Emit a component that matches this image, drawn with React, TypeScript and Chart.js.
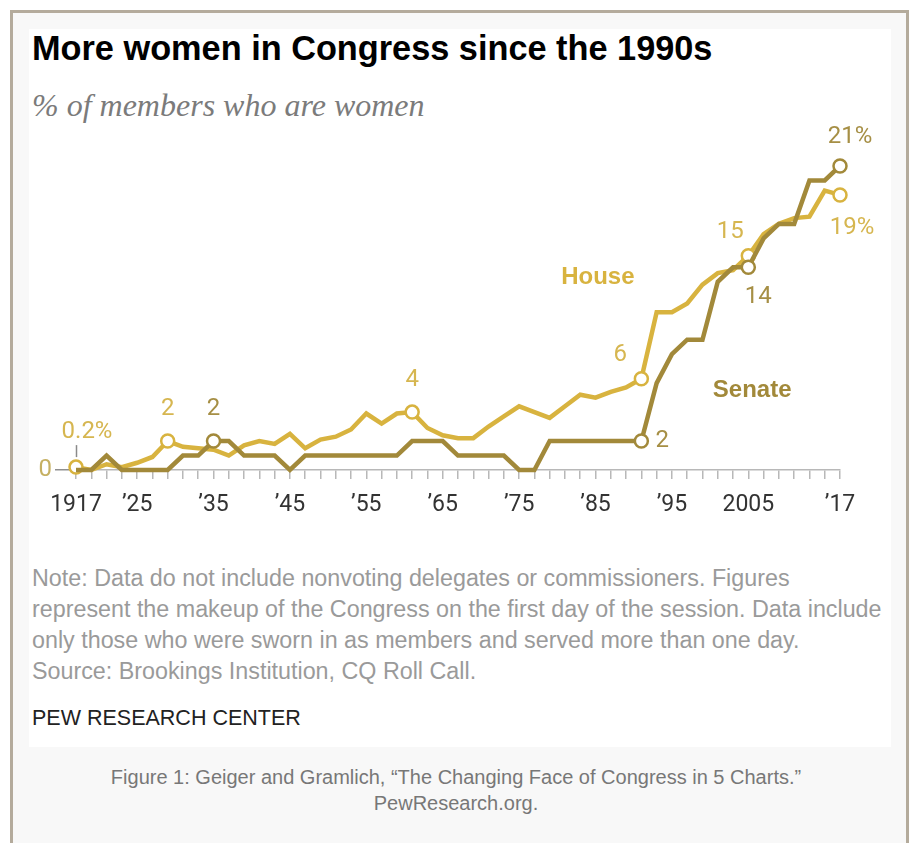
import React, { useEffect, useRef } from "react";
import { Chart, registerables } from "chart.js";

Chart.register(...registerables);

// Congress start years (every session, 1917-2017)
const years = [
  1917, 1919, 1921, 1923, 1925, 1927, 1929, 1931, 1933, 1935,
  1937, 1939, 1941, 1943, 1945, 1947, 1949, 1951, 1953, 1955,
  1957, 1959, 1961, 1963, 1965, 1967, 1969, 1971, 1973, 1975,
  1977, 1979, 1981, 1983, 1985, 1987, 1989, 1991, 1993, 1995,
  1997, 1999, 2001, 2003, 2005, 2007, 2009, 2011, 2013, 2015,
  2017,
];

// % of House members who are women
const house = [
  0.2, 0.0, 0.4, 0.2, 0.5, 0.9, 2.0, 1.6, 1.5, 1.4,
  1.0, 1.7, 2.0, 1.8, 2.5, 1.5, 2.1, 2.3, 2.8, 3.9,
  3.2, 3.9, 4.0, 2.9, 2.4, 2.2, 2.2, 3.0, 3.7, 4.4,
  4.0, 3.6, 4.4, 5.2, 5.0, 5.4, 5.7, 6.3, 10.9, 10.9,
  11.5, 12.8, 13.6, 13.8, 14.8, 16.3, 17.0, 17.4, 17.5, 19.3,
  19.0,
];

// % of Senate members who are women
const senate = [
  0, 0, 1, 0, 0, 0, 0, 1, 1, 2,
  2, 1, 1, 1, 0, 1, 1, 1, 1, 1,
  1, 1, 2, 2, 2, 1, 1, 1, 1, 0,
  0, 2, 2, 2, 2, 2, 2, 2, 6, 8,
  9, 9, 13, 14, 14, 16, 17, 17, 20, 20,
  21,
];

// x-axis tick labels
const tickYears = [1917, 1925, 1935, 1945, 1955, 1965, 1975, 1985, 1995, 2005, 2017];
const tickLabels = ["1917", "\u201925", "\u201935", "\u201945", "\u201955", "\u201965", "\u201975", "\u201985", "\u201995", "2005", "\u201917"];

// highlighted (circled) sessions
const houseMarked = [1917, 1929, 1961, 1991, 2005, 2017];
const senateMarked = [1935, 1991, 2005, 2017];

// value annotations: series, year, text
const houseNotes = [
  { year: 1917, text: "0.2%" },
  { year: 1929, text: "2" },
  { year: 1961, text: "4" },
  { year: 1991, text: "6" },
  { year: 2005, text: "15" },
  { year: 2017, text: "19%" },
];
const senateNotes = [
  { year: 1935, text: "2" },
  { year: 1991, text: "2" },
  { year: 2005, text: "14" },
  { year: 2017, text: "21%" },
];

// series name labels (anchored in data space)
const seriesNames = [
  { text: "House", year: 1985.3, value: 13.3 },
  { text: "Senate", year: 2005.5, value: 5.5 },
];

const HOUSE = "#d8b33f";
const SENATE = "#a2893a";
const HOUSE_TXT = "#d6b650";
const SENATE_TXT = "#a68f45";

// offsets of each annotation relative to its point (px)
const noteOffsets: Record<string, [number, number]> = {
  "H1917": [11, -35],
  "H1929": [0, -32],
  "H1961": [0, -32],
  "H1991": [-21, -24],
  "H2005": [-18, -24],
  "H2017": [12, 33],
  "S1935": [0, -32],
  "S1991": [21, 0],
  "S2005": [10, 30],
  "S2017": [10, -29],
};

export default function App() {
  const ref = useRef<HTMLCanvasElement>(null);

  useEffect(() => {
    if (!ref.current) return;
    const labelPlugin = {
      id: "labels",
      afterDatasetsDraw(chart: any) {
        const ctx = chart.ctx;
        ctx.save();
        ctx.textAlign = "center";
        ctx.textBaseline = "middle";
        const drawNotes = (dsIndex: number, notes: { year: number; text: string }[], key: string, color: string) => {
          const meta = chart.getDatasetMeta(dsIndex);
          notes.forEach((n) => {
            const idx = years.indexOf(n.year);
            const pt = meta.data[idx];
            const off = noteOffsets[key + n.year] || [0, -30];
            ctx.fillStyle = color;
            ctx.font = "400 24px Roboto, 'Liberation Sans', sans-serif";
            ctx.fillText(n.text, pt.x + off[0], pt.y + off[1]);
            if (key === "H" && n.year === 1917) {
              ctx.strokeStyle = "#8a8a8a";
              ctx.lineWidth = 1.5;
              ctx.beginPath();
              ctx.moveTo(pt.x + 0.5, pt.y - 10);
              ctx.lineTo(pt.x + 0.5, pt.y - 22);
              ctx.stroke();
            }
          });
        };
        drawNotes(1, houseNotes, "H", HOUSE_TXT);
        drawNotes(0, senateNotes, "S", SENATE_TXT);
        const xs = chart.scales.x;
        const ys = chart.scales.y;
        seriesNames.forEach((s, i) => {
          ctx.fillStyle = i === 0 ? HOUSE : SENATE;
          ctx.font = "bold 24px 'Liberation Sans', Arial, sans-serif";
          ctx.fillText(s.text, xs.getPixelForValue(s.year), ys.getPixelForValue(s.value));
        });
        ctx.restore();
      },
    };

    const makeData = (vals: number[]) => years.map((y, i) => ({ x: y, y: vals[i] }));

    const chart = new Chart(ref.current, {
      type: "line",
      data: {
        datasets: [
          {
            label: "Senate",
            data: makeData(senate),
            borderColor: SENATE,
            borderWidth: 4.5,
            backgroundColor: "#ffffff",
            pointBackgroundColor: "#ffffff",
            pointBorderColor: SENATE,
            pointBorderWidth: 2.5,
            pointRadius: (c: any) => (senateMarked.includes(years[c.dataIndex]) ? 6.5 : 0),
            pointHoverRadius: 0,
            tension: 0,
            clip: false,
          } as any,
          {
            label: "House",
            data: makeData(house),
            borderColor: HOUSE,
            borderWidth: 4.5,
            backgroundColor: "#ffffff",
            pointBackgroundColor: "#ffffff",
            pointBorderColor: HOUSE,
            pointBorderWidth: 2.5,
            pointRadius: (c: any) => (houseMarked.includes(years[c.dataIndex]) ? 6.5 : 0),
            pointHoverRadius: 0,
            tension: 0,
            clip: false,
          } as any,
        ],
      },
      options: {
        animation: false,
        responsive: false,
        maintainAspectRatio: false,
        events: [],
        layout: { padding: { left: 0, right: 50, top: 41.5, bottom: 0 } },
        plugins: { legend: { display: false }, tooltip: { enabled: false } },
        scales: {
          x: {
            type: "linear",
            min: 1917,
            max: 2017,
            afterBuildTicks: (s: any) => {
              s.ticks = years.map((v) => ({ value: v }));
            },
            afterFit: (s: any) => {
              s.height = 60;
            },
            ticks: {
              autoSkip: false,
              maxRotation: 0,
              padding: 12,
              color: "#333333",
              font: { family: "Roboto, 'Liberation Sans', sans-serif", size: 23 },
              callback: (v: any) => {
                const i = tickYears.indexOf(Number(v));
                return i >= 0 ? tickLabels[i] : "";
              },
            },
            grid: { drawOnChartArea: false, drawTicks: true, tickLength: 9, color: "#b8b8b8", lineWidth: 1.5 },
            border: { display: true, color: "#b8b8b8", width: 1.5 },
          },
          y: {
            type: "linear",
            min: 0,
            max: 22,
            afterBuildTicks: (s: any) => {
              s.ticks = [{ value: 0 }];
            },
            afterFit: (s: any) => {
              s.width = 48;
            },
            ticks: {
              padding: 3,
              color: "#c6b062",
              font: { family: "Roboto, 'Liberation Sans', sans-serif", size: 24 },
              callback: () => "0",
            },
            grid: { drawOnChartArea: false, drawTicks: true, tickLength: 21, color: "#8f8f8f", lineWidth: 1.5 },
            border: { display: false },
          },
        },
      },
      plugins: [labelPlugin],
    } as any);
    return () => chart.destroy();
  }, []);

  const noteStyle: React.CSSProperties = {
    position: "absolute",
    left: 32,
    top: 563,
    fontFamily: "'Liberation Sans', Arial, sans-serif",
    fontSize: 23.3,
    lineHeight: "31px",
    color: "#9a9a9a",
    whiteSpace: "pre",
  };

  return (
    <div style={{ position: "absolute", left: 0, top: 0, width: 912, height: 843, overflow: "hidden", background: "#ffffff" }}>
      <div
        style={{
          position: "absolute",
          left: 10,
          top: 10,
          width: 893,
          height: 900,
          border: "3px solid #b4ab9c",
          background: "#f8f8f8",
        }}
      />
      <div style={{ position: "absolute", left: 29, top: 29, width: 862, height: 718, background: "#ffffff" }} />
      <div
        style={{
          position: "absolute",
          left: 32,
          top: 31,
          fontFamily: "'Liberation Sans', Arial, sans-serif",
          fontWeight: 700,
          fontSize: 34.3,
          lineHeight: "34px",
          color: "#000000",
          whiteSpace: "nowrap",
        }}
      >
        More women in Congress since the 1990s
      </div>
      <div
        style={{
          position: "absolute",
          left: 32,
          top: 89,
          fontFamily: "'Liberation Serif', serif",
          fontStyle: "italic",
          fontSize: 32,
          lineHeight: "32px",
          color: "#7b7b7b",
          whiteSpace: "nowrap",
        }}
      >
        % of members who are women
      </div>
      <canvas
        ref={ref}
        width={862}
        height={420}
        style={{ position: "absolute", left: 28, top: 110, width: 862, height: 420 }}
      />
      <div style={noteStyle}>
        {"Note: Data do not include nonvoting delegates or commissioners. Figures\nrepresent the makeup of the Congress on the first day of the session. Data include\nonly those who were sworn in as members and served more than one day.\nSource: Brookings Institution, CQ Roll Call."}
      </div>
      <div
        style={{
          position: "absolute",
          left: 32,
          top: 708,
          fontFamily: "'Liberation Sans', Arial, sans-serif",
          fontSize: 21.5,
          lineHeight: "21px",
          color: "#222222",
          whiteSpace: "nowrap",
        }}
      >
        PEW RESEARCH CENTER
      </div>
      <div
        style={{
          position: "absolute",
          left: 0,
          top: 764,
          width: 912,
          textAlign: "center",
          fontFamily: "'Liberation Sans', Arial, sans-serif",
          fontSize: 20,
          lineHeight: "26px",
          color: "#777777",
        }}
      >
        {"Figure 1: Geiger and Gramlich, \u201cThe Changing Face of Congress in 5 Charts.\u201d"}
        <br />
        PewResearch.org.
      </div>
    </div>
  );
}
